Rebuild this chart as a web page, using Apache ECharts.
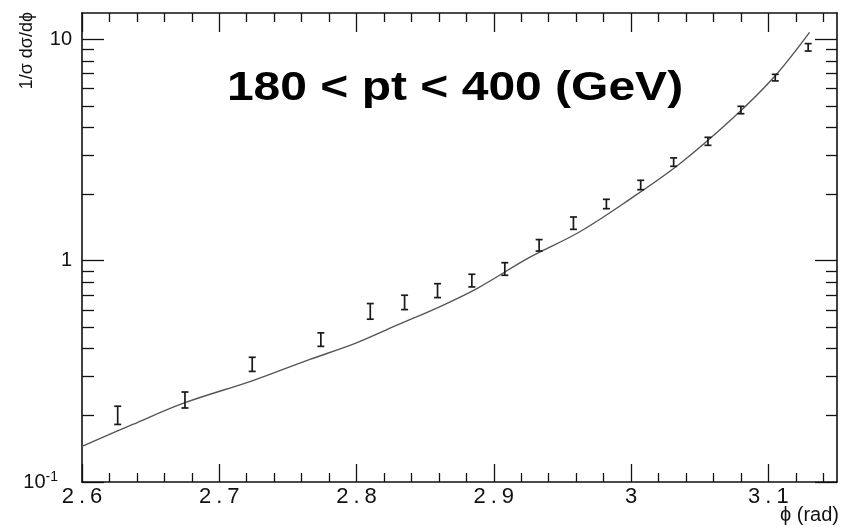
<!DOCTYPE html>
<html>
<head>
<meta charset="utf-8">
<style>
  html, body { margin: 0; padding: 0; background: #ffffff; }
  #chart { width: 844px; height: 527px; }
</style>
<script src="https://cdn.jsdelivr.net/npm/echarts@6/dist/echarts.min.js"></script>
</head>
<body>
<div id="chart"></div>
<script>
// Bin centres (rad) and normalised differential cross-section with error edges
const phiBins  = [2.626, 2.675, 2.724, 2.774, 2.810, 2.835, 2.859, 2.884, 2.908, 2.933, 2.958, 2.982, 3.007, 3.031, 3.056, 3.080, 3.105, 3.129];
const xsec     = [0.200, 0.235, 0.340, 0.440, 0.590, 0.648, 0.732, 0.813, 0.917, 1.173, 1.477, 1.803, 2.197, 2.788, 3.461, 4.793, 6.714, 9.200];
const xsecLow  = [0.182, 0.216, 0.316, 0.410, 0.544, 0.601, 0.681, 0.761, 0.859, 1.105, 1.385, 1.717, 2.092, 2.669, 3.320, 4.612, 6.488, 8.852];
const xsecHigh = [0.220, 0.255, 0.366, 0.472, 0.640, 0.698, 0.787, 0.868, 0.979, 1.245, 1.575, 1.893, 2.307, 2.913, 3.608, 4.981, 6.948, 9.562];

// Theory curve sampled along phi
const fitPhi = [2.600, 2.637, 2.674, 2.725, 2.766, 2.799, 2.829, 2.858, 2.888, 2.926, 2.962, 2.999, 3.035, 3.074, 3.104, 3.130];
const fitVal = [0.145, 0.182, 0.227, 0.288, 0.358, 0.423, 0.510, 0.609, 0.750, 1.035, 1.344, 1.893, 2.725, 4.396, 6.735, 10.75];

// Axis ticks
const xMajorTicks = [2.6, 2.7, 2.8, 2.9, 3.0, 3.1];
const xMinorTicks = [2.62, 2.64, 2.66, 2.68, 2.72, 2.74, 2.76, 2.78, 2.82, 2.84, 2.86, 2.88,
                     2.92, 2.94, 2.96, 2.98, 3.02, 3.04, 3.06, 3.08, 3.12, 3.14];
const yMajorTicks = [0.1, 1, 10];
const yMinorTicks = [0.2, 0.3, 0.4, 0.5, 0.6, 0.7, 0.8, 0.9, 2, 3, 4, 5, 6, 7, 8, 9];

const titleText = '180 < pt < 400 (GeV)';
const xTitle = 'ϕ (rad)';
const yTitle = '1/σ dσ/dϕ';

const FONT = '"Liberation Sans", Arial, Helvetica, sans-serif';
const INK = '#111111';
const X_MIN = 2.6, X_MAX = 3.15, Y_MIN = 0.1, Y_MAX = 13.15;
const gridRect = { left: 82, top: 13, right: 7, bottom: 45 };

// x tick labels: digits with a little air around the decimal point
function xLabel(v) {
  const s = String(Math.round(v * 10) / 10);
  return s.split('').map(ch => (ch === '.' ? '{p|.}' : '{d|' + ch + '}')).join('');
}

function xAxisDef(gridIndex, position, ticks, len, withLabels) {
  return {
    type: 'value', gridIndex, position, min: X_MIN, max: X_MAX,
    axisLine: { show: gridIndex === 0, lineStyle: { color: INK, width: 1.6 } },
    axisTick: { show: true, inside: true, length: len, customValues: ticks,
                lineStyle: { color: INK, width: 1.3 } },
    axisLabel: withLabels ? {
      show: true, customValues: xMajorTicks, margin: 4,
      color: INK, formatter: xLabel,
      rich: {
        d: { fontFamily: FONT, fontSize: 22, color: INK },
        p: { fontFamily: FONT, fontSize: 22, color: INK, padding: [0, 5, 0, 5] }
      }
    } : { show: false },
    splitLine: { show: false }
  };
}

function yLabel(v) {
  if (Math.abs(v - 0.1) < 1e-9) return '{b|10}{sup|-1}{gap|}';
  return '{b|' + String(Math.round(v)) + '}';
}

function yAxisDef(gridIndex, position, ticks, len, withLabels) {
  return {
    type: 'log', logBase: 10, gridIndex, position, min: Y_MIN, max: Y_MAX,
    axisLine: { show: gridIndex === 0, lineStyle: { color: INK, width: 1.6 } },
    axisTick: { show: true, inside: true, length: len, customValues: ticks,
                lineStyle: { color: INK, width: 1.3 } },
    axisLabel: withLabels ? {
      show: true, customValues: yMajorTicks, margin: 10,
      color: INK, formatter: yLabel,
      rich: {
        b: { fontFamily: FONT, fontSize: 20, color: INK },
        sup: { fontFamily: FONT, fontSize: 14, color: INK, verticalAlign: 'top', padding: [0, 0, 10, 0] },
        gap: { width: 14 }
      }
    } : { show: false },
    splitLine: { show: false }
  };
}

const chart = echarts.init(document.getElementById('chart'), null, { renderer: 'canvas' });

chart.setOption({
  backgroundColor: '#ffffff',
  animation: false,
  grid: [
    Object.assign({}, gridRect),
    Object.assign({}, gridRect)
  ],
  xAxis: [
    xAxisDef(0, 'bottom', xMajorTicks, 18, true),
    xAxisDef(0, 'top', xMajorTicks, 19, false),
    xAxisDef(1, 'bottom', xMinorTicks, 9, false),
    xAxisDef(1, 'top', xMinorTicks, 9, false)
  ],
  yAxis: [
    yAxisDef(0, 'left', yMajorTicks, 22, true),
    yAxisDef(0, 'right', yMajorTicks, 22, false),
    yAxisDef(1, 'left', yMinorTicks, 12, false),
    yAxisDef(1, 'right', yMinorTicks, 11, false)
  ],
  graphic: [
    {
      type: 'text', x: 455, y: 89, scaleX: 1.2,
      style: { text: titleText, fontFamily: FONT, fontSize: 40, fontWeight: 'bold',
               fill: '#000000', textAlign: 'center', textVerticalAlign: 'middle' }
    },
    {
      type: 'text', x: 839, y: 515,
      style: { text: xTitle, fontFamily: FONT, fontSize: 20, fill: INK,
               textAlign: 'right', textVerticalAlign: 'middle' }
    },
    {
      type: 'text', x: 27, y: 12, rotation: Math.PI / 2,
      style: { text: yTitle, fontFamily: FONT, fontSize: 18, fill: INK,
               textAlign: 'right', textVerticalAlign: 'middle' }
    }
  ],
  series: [
    {
      name: 'fit', type: 'line', xAxisIndex: 0, yAxisIndex: 0,
      data: fitPhi.map((x, i) => [x, fitVal[i]]),
      smooth: 0.35, showSymbol: false, symbol: 'none',
      lineStyle: { color: '#555555', width: 1.4 },
      z: 3
    },
    {
      name: 'data', type: 'custom', xAxisIndex: 0, yAxisIndex: 0,
      data: phiBins.map((x, i) => [x, xsecLow[i], xsecHigh[i], xsec[i]]),
      encode: { x: 0, y: [1, 2] },
      renderItem: function (params, api) {
        const x = api.value(0);
        const pLo = api.coord([x, api.value(1)]);
        const pHi = api.coord([x, api.value(2)]);
        const cap = 3.5;
        const st = { stroke: '#1a1a1a', lineWidth: 1.7 };
        return {
          type: 'group',
          children: [
            { type: 'line', shape: { x1: pLo[0], y1: pLo[1], x2: pHi[0], y2: pHi[1] }, style: st },
            { type: 'line', shape: { x1: pLo[0] - cap, y1: pLo[1], x2: pLo[0] + cap, y2: pLo[1] }, style: st },
            { type: 'line', shape: { x1: pHi[0] - cap, y1: pHi[1], x2: pHi[0] + cap, y2: pHi[1] }, style: st }
          ]
        };
      },
      z: 4
    }
  ]
});
</script>
</body>
</html>
